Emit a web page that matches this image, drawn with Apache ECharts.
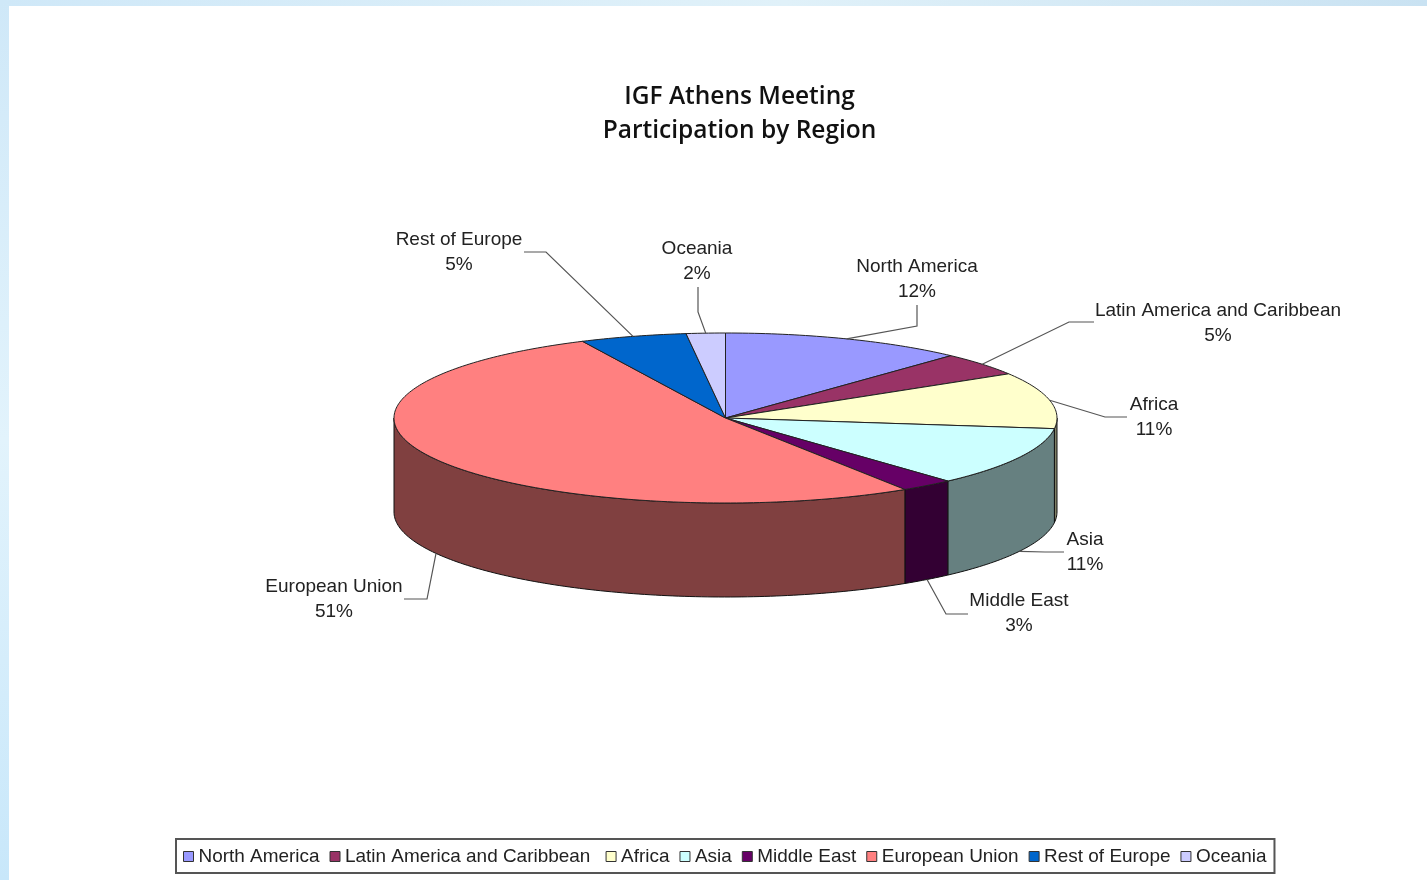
<!DOCTYPE html>
<html>
<head>
<meta charset="utf-8">
<style>
html,body{margin:0;padding:0;background:#fff;overflow:hidden}
#chart{width:1427px;height:880px;filter:blur(0.6px)}
</style>
<script src="https://cdn.jsdelivr.net/npm/echarts@6/dist/echarts.min.js"></script>
</head>
<body>
<div id="chart"></div>
<script>
// Data
const regions = ['North America','Latin America and Caribbean','Africa','Asia','Middle East','European Union','Rest of Europe','Oceania'];
const sliceShares = [11.9, 4.4, 10.7, 11.3, 2.6, 52, 5.2, 1.9];
const printedPercents = ['12%','5%','11%','11%','3%','51%','5%','2%'];
const titleLines = ['IGF Athens Meeting','Participation by Region'];

// Styles
const topColors  = ['#9999FF','#993366','#FFFFCC','#CCFFFF','#660066','#FF8080','#0066CC','#CCCCFF'];
const sideColors = ['#4D4D80','#4D1A33','#808066','#668080','#330033','#804040','#003366','#666680'];

// Layout of the drawing
const pie = {cx:725.5, cy:418, rx:331.5, ry:85, depth:94};
const labelFont = '19px "Liberation Sans", Arial, sans-serif';
// [label centre x, first-line centre y, elbow x, elbow y, line start x, line start y]
const labelPlaces = [
  [917,266, 917,326, 917,305],
  [1218,310, 1069,322, 1094,322],
  [1154,404, 1105,417, 1127,417],
  [1085,539, 1045,552, 1064,552],
  [1019,600, 946,614, 968,614],
  [334,586, 427,599, 404,599],
  [459,239, 546,252, 524,252],
  [697,248, 698,312, 698,287]
];

const toAngle = pct => echarts.number.linearMap(pct, [0,100], [0, Math.PI*2]);
const rim = (t, drop) => [pie.cx + pie.rx*Math.sin(t), pie.cy - pie.ry*Math.cos(t) + (drop||0)];
function arc(a, b, drop){
  const n = Math.max(2, Math.ceil((b-a)/(Math.PI/180))), pts = [];
  for(let i=0;i<=n;i++) pts.push(rim(a+(b-a)*i/n, drop));
  return pts;
}

function renderSlice(i){
  return function(params, api){
    const start = toAngle(api.value(0)), end = toAngle(api.value(0)+api.value(1));
    const mid = (start+end)/2;
    const children = [];
    // visible wall: only the front half of the rim
    const a = Math.max(start, Math.PI/2), b = Math.min(end, Math.PI*1.5);
    if(b > a){
      children.push({type:'polygon', silent:true,
        shape:{points: arc(a,b,0).concat(arc(a,b,pie.depth).reverse())},
        style:{fill:sideColors[i], stroke:'#111', lineWidth:1}});
    }
    children.push({type:'polygon', silent:true,
      shape:{points: [[pie.cx,pie.cy]].concat(arc(start,end,0))},
      style:{fill:topColors[i], stroke:'#222', lineWidth:1}});
    // leader line from the middle of the slice
    const front = mid > Math.PI*0.6 && mid < Math.PI*1.5;
    const anchor = rim(mid, front ? pie.depth : 0);
    const p = labelPlaces[i];
    children.push({type:'polyline', silent:true,
      shape:{points:[[p[4],p[5]],[p[2],p[3]],anchor]},
      style:{fill:'none', stroke:'#555', lineWidth:1.2}});
    children.push({type:'text', silent:true,
      style:{x:p[0], y:p[1]+13, text:regions[i]+'\n'+printedPercents[i], align:'center', verticalAlign:'middle',
        font:labelFont, lineHeight:25, fill:'#222'}});
    return {type:'group', children};
  };
}

let running = 0;
const series = regions.map((name,i)=>{
  const s = {
    type:'custom', name, coordinateSystem:'none', renderItem:renderSlice(i),
    itemStyle:{color:topColors[i]}, silent:true, animation:false,
    data:[[running, sliceShares[i]]]
  };
  running += sliceShares[i];
  return s;
});

const chart = echarts.init(document.getElementById('chart'), null, {renderer:'canvas'});
chart.setOption({
  backgroundColor:'#fff',
  animation:false,
  title:{
    text:titleLines.join('\n'), left:734.5, top:75, textAlign:'center',
    textStyle:{fontFamily:'"Open Sans", sans-serif', fontSize:24.5, fontWeight:600, color:'#111', lineHeight:34}
  },
  legend:{
    data:regions, left:176, top:839, orient:'horizontal', icon:'rect',
    itemWidth:10, itemHeight:10, itemGap:10, padding:[8,8,7,7],
    borderColor:'#555', borderWidth:2, borderRadius:0, selectedMode:false,
    itemStyle:{borderColor:'#333', borderWidth:1},
    textStyle:{fontFamily:'"Liberation Sans", Arial, sans-serif', fontSize:18.95, color:'#222'},
    formatter:n => n === regions[1] ? n + ' ' : n
  },
  graphic:[
    {type:'rect', silent:true, z:-1, shape:{x:0,y:0,width:1427,height:6},
      style:{fill:new echarts.graphic.LinearGradient(0,0,1,0,[{offset:0,color:'#CFE8F8'},{offset:0.55,color:'#E0F1F9'},{offset:1,color:'#C9E2F2'}])}},
    {type:'rect', silent:true, z:-1, shape:{x:0,y:0,width:9,height:880},
      style:{fill:new echarts.graphic.LinearGradient(0,0,0,1,[{offset:0,color:'#CFE8F8'},{offset:0.5,color:'#E2F3FC'},{offset:1,color:'#C8E7FA'}])}}
  ],
  series
});
</script>
</body>
</html>
